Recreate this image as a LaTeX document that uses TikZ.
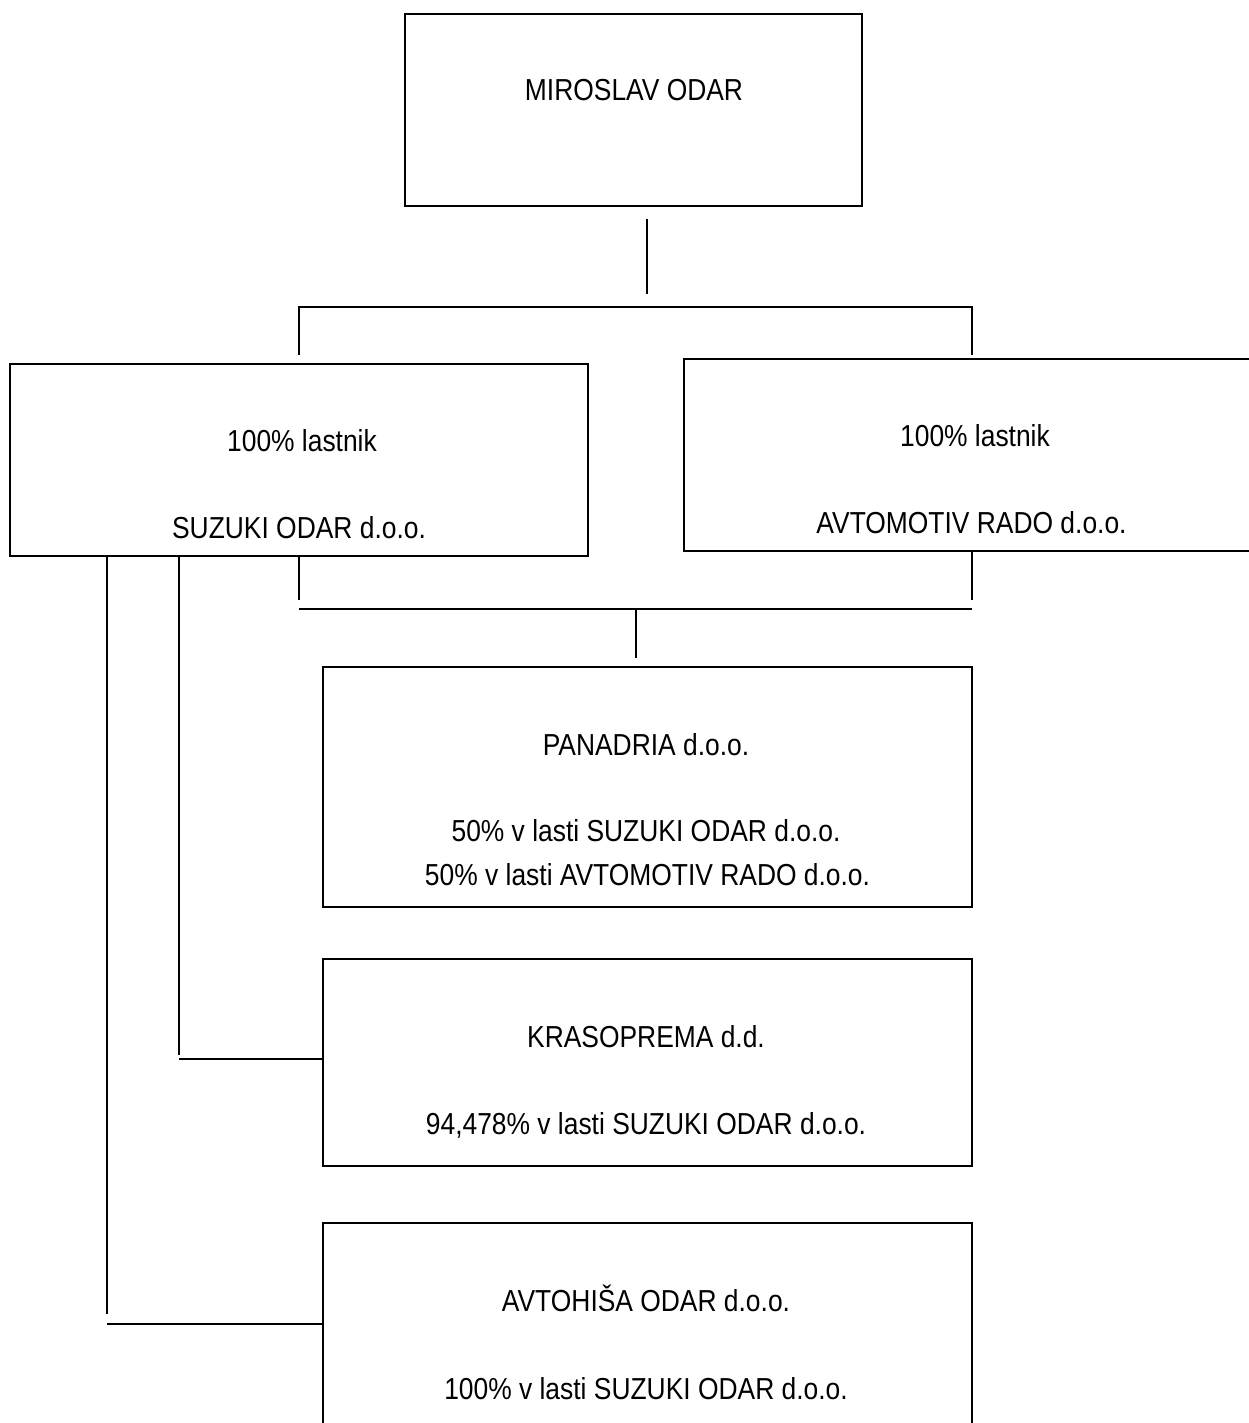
\documentclass[tikz,border=0pt]{standalone}
\usepackage{fontspec}
\setmainfont{Liberation Sans}
\newcommand{\tallt}[1]{\scalebox{1}[1.15]{#1}}
\begin{document}
\begin{tikzpicture}[x=1pt,y=-1pt,
  box/.style={draw,line width=1.8pt,rectangle,inner sep=0pt},
  txt/.style={anchor=base,inner sep=0pt,font=\fontsize{26.4}{30}\selectfont},
  conn/.style={line width=1.8pt}]
\useasboundingbox (0,0) rectangle (1249,1423);
% boxes
\node[box,minimum width=457pt,minimum height=192pt] (owner) at (633.5,110) {};
\node[box,minimum width=578pt,minimum height=192pt] (suzuki) at (299,460) {};
\node[box,minimum width=578pt,minimum height=192pt] (rado) at (973,455) {};
\node[box,minimum width=649pt,minimum height=240pt] (panadria) at (647.5,787) {};
\node[box,minimum width=649pt,minimum height=207pt] (kraso) at (647.5,1062.5) {};
\node[box,minimum width=649pt,minimum height=240pt] (avto) at (647.5,1343) {};
% texts
\node[txt] (t0) at (634,101) {\tallt{MIROSLAV ODAR}};
\node[txt] (t1) at (302,451) {\tallt{100\% lastnik}};
\node[txt] (t2) at (299,538) {\tallt{SUZUKI ODAR d.o.o.}};
\node[txt] (t3) at (975,446) {\tallt{100\% lastnik}};
\node[txt] (t4) at (971.5,533) {\tallt{AVTOMOTIV RADO d.o.o.}};
\node[txt] (t5) at (646,755.5) {\tallt{PANADRIA d.o.o.}};
\node[txt] (t6) at (646,841) {\tallt{50\% v lasti SUZUKI ODAR d.o.o.}};
\node[txt] (t7) at (647.5,885) {\tallt{50\% v lasti AVTOMOTIV RADO d.o.o.}};
\node[txt] (t8) at (646,1047) {\tallt{KRASOPREMA d.d.}};
\node[txt] (t9) at (646,1134) {\tallt{94,478\% v lasti SUZUKI ODAR d.o.o.}};
\node[txt] (t10) at (646,1311) {\tallt{AVTOHIŠA ODAR d.o.o.}};
\node[txt] (t11) at (646,1399) {\tallt{100\% v lasti SUZUKI ODAR d.o.o.}};
% connector points
\coordinate (a1) at (647,219);
\coordinate (a2) at (647,294);
\coordinate (b1) at (299,307);
\coordinate (b2) at (972,307);
\coordinate (b3) at (299,355);
\coordinate (b4) at (972,355);
\coordinate (c1) at (299,556);
\coordinate (c2) at (299,600);
\coordinate (c3) at (972,551);
\coordinate (c4) at (972,600);
\coordinate (d1) at (299,609);
\coordinate (d2) at (972,609);
\coordinate (d3) at (636,609);
\coordinate (d4) at (636,658);
\coordinate (e1) at (179,556);
\coordinate (e2) at (179,1055);
\coordinate (e3) at (179,1059);
\coordinate (e4) at (kraso.west |- e3);
\coordinate (f1) at (107,556);
\coordinate (f2) at (107,1314);
\coordinate (f3) at (107,1324);
\coordinate (f4) at (avto.west |- f3);
% connectors
\draw[conn] (a1) -- (a2);
\draw[conn] (b3) -- (b1) -- (b2) -- (b4);
\draw[conn] (c1) -- (c2);
\draw[conn] (c3) -- (c4);
\draw[conn] (d1) -- (d2);
\draw[conn] (d3) -- (d4);
\draw[conn] (e1) -- (e2);
\draw[conn] (e3) -- (e4);
\draw[conn] (f1) -- (f2);
\draw[conn] (f3) -- (f4);
\end{tikzpicture}
\end{document}
